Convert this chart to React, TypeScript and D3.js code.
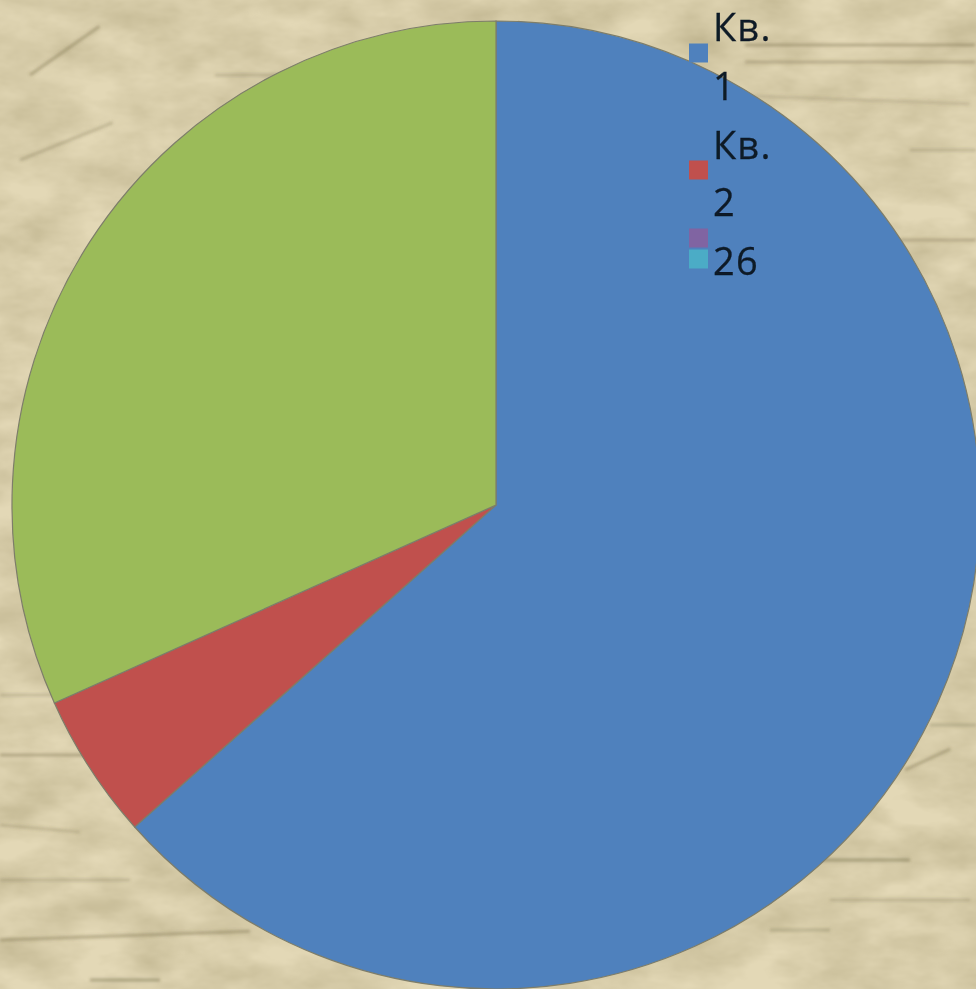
import React from "react";
import * as d3 from "d3";

const W = 976;
const H = 989;
const sliceLabels = ["Кв. 1", "Кв. 2", "3"];
const sliceValues = [52, 4, 26];
const sliceColors = ["#4f81bd", "#c0504d", "#9bbb59"];
const legendLines = ["Кв.", "1", "Кв.", "2", "26"];
const legendLineY = [41, 100, 159, 216, 275];
const legendColors = ["#4f81bd", "#c0504d", "#8064a2", "#4bacc6"];
const legendKeyY = [53, 170, 238, 259];
// Parchment staves and handwriting: x, y, length, tilt, opacity
const staffRows = [
  [745, 45, 230, 0, 0.4], [745, 62, 230, 0, 0.35], [720, 95, 250, 2, 0.2], [910, 150, 66, 0, 0.25],
  [900, 240, 76, 0, 0.35], [215, 75, 80, 0, 0.25], [30, 75, 85, -35, 0.4], [20, 160, 100, -22, 0.3],
  [0, 695, 60, 0, 0.25], [0, 755, 90, 0, 0.4], [0, 825, 80, 5, 0.25],
  [0, 880, 130, 0, 0.25], [0, 940, 250, -2, 0.4], [90, 980, 70, 0, 0.45], [820, 860, 90, 0, 0.45],
  [830, 900, 140, 0, 0.25], [905, 770, 50, -25, 0.4], [770, 930, 60, 0, 0.3], [930, 725, 46, 0, 0.3],
];

export default function App() {
  const cx = 496;
  const cy = 505;
  const r = 484;
  const arcs = d3.pie<number>().sort(null)(sliceValues);
  const arc = d3.arc<d3.PieArcDatum<number>>().innerRadius(0).outerRadius(r);
  return (
    <svg width={W} height={H} style={{ position: "absolute", left: 0, top: 0 }}>
      <defs>
        <filter id="paper" x="0" y="0" width="100%" height="100%">
          <feTurbulence type="fractalNoise" baseFrequency="0.015 0.03" numOctaves={4} seed={7} />
          <feColorMatrix type="matrix" values="0 0 0 0 0.45  0 0 0 0 0.39  0 0 0 0 0.22  0.65 0.65 0 0 -0.42" />
        </filter>
        <filter id="soft"><feGaussianBlur stdDeviation="1.6" /></filter>
        <filter id="textSoft"><feGaussianBlur stdDeviation="0.45" /></filter>
      </defs>
      <rect width={W} height={H} fill="#e3d8b6" />
      <rect width={W} height={H} filter="url(#paper)" />
      <g filter="url(#soft)" stroke="#6f6442" strokeWidth={3}>
        {staffRows.map((s, i) => (
          <line
            key={i}
            x1={s[0]}
            y1={s[1]}
            x2={s[0] + s[2] * Math.cos((s[3] * Math.PI) / 180)}
            y2={s[1] + s[2] * Math.sin((s[3] * Math.PI) / 180)}
            opacity={s[4]}
          />
        ))}
      </g>
      <g transform={`translate(${cx},${cy})`}>
        {arcs.map((a, i) => (
          <path key={sliceLabels[i]} d={arc(a) ?? ""} fill={sliceColors[i]} stroke="#7d7d6a" strokeWidth={1.2} />
        ))}
      </g>
      {legendColors.map((c, i) => (
        <rect key={c} x={689} y={legendKeyY[i] - 9.5} width={19} height={19} fill={c} />
      ))}
      <g filter="url(#textSoft)" fontFamily="'Open Sans', 'Noto Sans', sans-serif" fontSize={38} letterSpacing={1.2} fill="#0f1a26" stroke="#0f1a26" strokeWidth={0.3}>
        {legendLines.map((t, i) => (
          <text key={i} x={713} y={legendLineY[i]}>{t}</text>
        ))}
      </g>
    </svg>
  );
}
